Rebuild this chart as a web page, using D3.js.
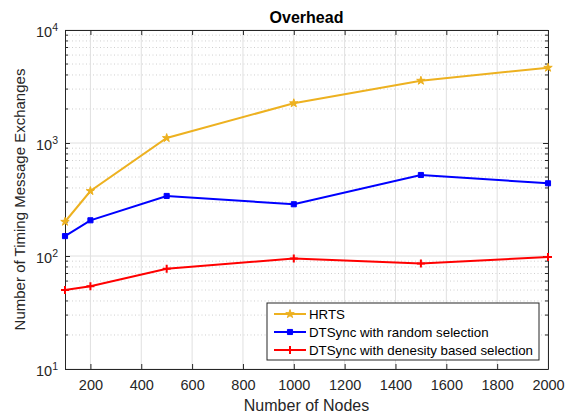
<!DOCTYPE html>
<html>
<head>
<meta charset="utf-8">
<script src="https://cdn.jsdelivr.net/npm/d3@7"></script>
<style>
  body { margin: 0; background: #fff; }
  svg { font-family: Arial, "Liberation Sans", sans-serif; }
</style>
</head>
<body>
<div id="chart"></div>
<script>
// data
const nodes = [100, 200, 500, 1000, 1500, 2000];
const hrts = [201, 376, 1107, 2250, 3560, 4640];
const dtRandom = [150, 207, 340, 287, 521, 440];
const dtDensity = [50, 54, 77, 95, 86, 98];
const seriesNames = ["HRTS", "DTSync with random selection", "DTSync with denesity based selection"];
const xTicks = [200, 400, 600, 800, 1000, 1200, 1400, 1600, 1800, 2000];
const yTicks = [10, 100, 1000, 10000];

const svg_width = 573, svg_height = 417;
const margin = { top: 30, right: 25, bottom: 48, left: 65 };
const width = svg_width - margin.left - margin.right;
const height = svg_height - margin.top - margin.bottom;

const svg = d3.select("#chart").append("svg")
    .attr("width", svg_width).attr("height", svg_height);
const g = svg.append("g").attr("transform", `translate(${margin.left},${margin.top})`);

const xScale = d3.scaleLinear([100, 2000], [0, width]);
const yScale = d3.scaleLog([10, 10000], [height, 0]);

// minor grid (dotted)
const minor = [];
for (let e = 1; e < 4; e++) for (let k = 2; k < 10; k++) minor.push(k * Math.pow(10, e));
g.append("g").selectAll("line").data(minor).join("line")
    .attr("x1", 0).attr("x2", width)
    .attr("y1", d => yScale(d)).attr("y2", d => yScale(d))
    .attr("stroke", "#cfcfcf").attr("stroke-dasharray", "1,2.5").attr("stroke-width", 1);

// major grid
g.append("g").selectAll("line").data(xTicks).join("line")
    .attr("x1", d => xScale(d)).attr("x2", d => xScale(d))
    .attr("y1", 0).attr("y2", height)
    .attr("stroke", "#e0e0e0");
g.append("g").selectAll("line").data(yTicks).join("line")
    .attr("x1", 0).attr("x2", width)
    .attr("y1", d => yScale(d)).attr("y2", d => yScale(d))
    .attr("stroke", "#e0e0e0");

// axes
const axisColor = "#262626";
const xAxis = d3.axisBottom(xScale).tickValues(xTicks).tickFormat(d3.format("d"))
    .tickSizeInner(-5).tickSizeOuter(0).tickPadding(11);
const xAxisDraw = g.append("g").attr("transform", `translate(0,${height})`).call(xAxis);
const xTop = g.append("g").call(d3.axisTop(xScale).tickValues(xTicks).tickSizeInner(-5).tickSizeOuter(0).tickFormat(""));
const yAxis = d3.axisLeft(yScale).tickValues(yTicks).tickSizeInner(-5).tickSizeOuter(0).tickFormat("");
const yAxisDraw = g.append("g").call(yAxis);
const yRight = g.append("g").attr("transform", `translate(${width},0)`)
    .call(d3.axisRight(yScale).tickValues(yTicks).tickSizeInner(-5).tickSizeOuter(0).tickFormat(""));
// minor ticks on log axis
g.append("g").selectAll("line").data(minor).join("line")
    .attr("x1", 0).attr("x2", 3).attr("y1", d => yScale(d)).attr("y2", d => yScale(d))
    .attr("stroke", axisColor);
g.append("g").selectAll("line").data(minor).join("line")
    .attr("x1", width - 3).attr("x2", width).attr("y1", d => yScale(d)).attr("y2", d => yScale(d))
    .attr("stroke", axisColor);

[xAxisDraw, xTop, yAxisDraw, yRight].forEach(a => {
    a.select(".domain").attr("stroke", axisColor);
    a.selectAll(".tick line").attr("stroke", axisColor);
});
xAxisDraw.selectAll("text").attr("fill", axisColor).style("font-size", "14.5px");

// y tick labels 10^n
yAxisDraw.selectAll(".tick").each(function(d) {
    const t = d3.select(this).append("text").attr("fill", axisColor)
        .attr("x", -7).attr("dy", "0.45em").attr("text-anchor", "end")
        .style("font-size", "14.5px");
    t.append("tspan").text("10");
    t.append("tspan").text(Math.round(Math.log10(d))).attr("dy", "-0.55em").style("font-size", "10.5px");
});

// lines
const line = d3.line().x(d => xScale(d[0])).y(d => yScale(d[1]));
const series = [
    { name: seriesNames[0], vals: hrts, color: "#EDB120", marker: "star" },
    { name: seriesNames[1], vals: dtRandom, color: "#0000FF", marker: "square" },
    { name: seriesNames[2], vals: dtDensity, color: "#FF0000", marker: "plus" }
];

function drawMarker(sel, type, color) {
    if (type === "star") {
        sel.append("path").attr("d", d3.symbol(d3.symbolStar, 22)()).attr("fill", color).attr("stroke", color);
    } else if (type === "square") {
        sel.append("path").attr("d", d3.symbol(d3.symbolSquare, 26)()).attr("fill", color).attr("stroke", color);
    } else {
        sel.append("path").attr("d", "M-4,0H4M0,-4V4").attr("stroke", color).attr("stroke-width", 2);
    }
}

series.forEach(s => {
    const pts = nodes.map((n, i) => [n, s.vals[i]]);
    g.append("path").datum(pts).attr("d", line)
        .attr("fill", "none").attr("stroke", s.color).attr("stroke-width", 2);
    g.append("g").selectAll("g").data(pts).join("g")
        .attr("transform", d => `translate(${xScale(d[0])},${yScale(d[1])})`)
        .each(function() { drawMarker(d3.select(this), s.marker, s.color); });
});

// legend
const legend = g.append("g").attr("transform", `translate(${267 - margin.left},${303 - margin.top})`);
legend.append("rect").attr("width", 272).attr("height", 57)
    .attr("fill", "#fff").attr("stroke", axisColor).attr("stroke-width", 1);
series.forEach((s, i) => {
    const row = legend.append("g").attr("transform", `translate(0,${11 + i * 18})`);
    row.append("line").attr("x1", 7).attr("x2", 39).attr("stroke", s.color).attr("stroke-width", 2);
    const m = row.append("g").attr("transform", "translate(23,0)");
    drawMarker(m, s.marker, s.color);
    row.append("text").attr("x", 42).attr("dy", "0.36em").text(s.name)
        .style("font-size", "13.3px").attr("fill", "#000");
});

// header and labels
svg.append("text").attr("x", margin.left + width / 2).attr("y", 23)
    .attr("text-anchor", "middle").style("font-weight", "bold").style("font-size", "16px")
    .text("Overhead");
svg.append("text").attr("x", margin.left + width / 2).attr("y", 411)
    .attr("text-anchor", "middle").style("font-size", "16px").attr("fill", axisColor)
    .text("Number of Nodes");
svg.append("text").attr("transform", `translate(25,${margin.top + height / 2}) rotate(-90)`)
    .attr("text-anchor", "middle").style("font-size", "15px").attr("fill", axisColor)
    .text("Number of Timing Message Exchanges");
</script>
</body>
</html>
